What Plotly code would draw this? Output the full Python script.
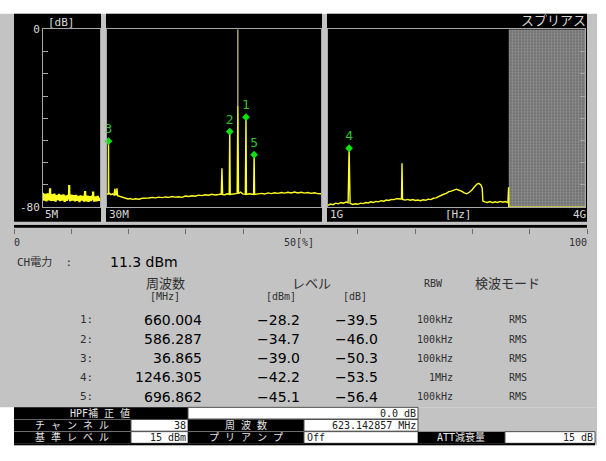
import plotly.graph_objects as go

# ---------------------------------------------------------------- data
# sweep of band 1 (5 MHz - 30 MHz), level in dB relative to channel power
b1_freq = [5.0, 5.5, 6.0, 6.5, 7.0, 7.5, 8.0, 8.1, 8.2, 8.5,
           9.0, 9.5, 10.0, 10.5, 11.0, 11.5, 12.0, 12.5, 13.0, 13.5,
           14.0, 14.5, 15.0, 15.5, 16.0, 16.4, 16.5, 16.6, 17.0, 17.5,
           18.0, 18.5, 19.0, 19.5, 20.0, 20.5, 21.0, 21.5, 22.0, 22.5,
           23.0, 23.4, 23.5, 23.6, 24.0, 24.5, 25.0, 25.5, 26.0, 26.5,
           26.9, 27.0, 27.1, 27.5, 28.0, 28.5, 29.0, 29.5, 30.0]
b1_level = [-73.6, -77.0, -74.0, -77.4, -73.8, -76.9, -74.4, -71.5, -75.0, -77.2,
            -74.2, -77.1, -73.9, -77.5, -74.6, -76.8, -74.0, -77.3, -74.5, -77.0,
            -74.3, -77.6, -74.8, -77.1, -74.5, -75.5, -70.0, -76.0, -77.3, -74.4,
            -77.0, -74.6, -77.4, -74.5, -77.1, -74.9, -77.7, -74.7, -77.0, -75.0,
            -77.5, -75.2, -72.8, -76.2, -77.3, -74.8, -77.6, -75.1, -77.2, -74.9,
            -76.0, -73.0, -76.4, -77.4, -75.2, -77.3, -75.0, -77.1, -75.8]

# sweep of band 2 (30 MHz - 1 GHz), floor and minor spurs
b2_freq = [30, 33, 36, 37.7, 42, 48, 55, 62, 66, 69,
           73, 75, 78, 85, 95, 105, 115, 125, 135, 145,
           160, 175, 190, 205, 220, 235, 250, 265, 280, 295,
           310, 325, 340, 355, 370, 385, 400, 415, 430, 445,
           460, 475, 490, 505, 520, 535, 548, 551, 554, 565,
           575, 584, 588.5, 600, 612, 620, 626, 635, 645, 657,
           662, 675, 688, 694.5, 699, 715, 730, 745, 760, 775,
           790, 805, 820, 835, 850, 865, 880, 895, 910, 925,
           940, 955, 970, 985, 1000]
b2_level = [-74.3, -74.0, -74.2, -74.0, -73.8, -74.4, -74.0, -74.5, -71.7, -74.6,
            -74.3, -71.5, -74.8, -75.0, -75.4, -75.8, -76.0, -76.3, -76.1, -76.5,
            -76.2, -76.4, -76.0, -76.1, -75.9, -75.6, -75.8, -75.5, -75.7, -75.4,
            -75.6, -75.2, -75.5, -75.3, -75.6, -75.0, -75.2, -74.9, -75.1, -74.6,
            -74.8, -74.4, -74.6, -74.2, -74.5, -74.3, -74.1, -62.5, -74.3, -74.4,
            -74.0, -74.2, -74.3, -74.1, -74.0, -73.8, -73.9, -73.2, -74.0, -74.2,
            -74.3, -74.0, -74.2, -74.1, -74.3, -74.0, -73.8, -74.1, -73.6, -73.9,
            -73.5, -73.8, -73.4, -73.7, -73.3, -73.6, -73.2, -73.6, -73.3, -73.7,
            -73.4, -73.8, -73.5, -73.9, -74.0]

# sweep of band 3 (1 GHz - 4 GHz)
b3_freq = [1000, 1030, 1060, 1090, 1120, 1150, 1180, 1210, 1235, 1258,
           1290, 1320, 1350, 1380, 1410, 1440, 1470, 1500, 1530, 1560,
           1590, 1620, 1650, 1680, 1710, 1740, 1770, 1800, 1830, 1858,
           1864, 1870, 1900, 1930, 1960, 1990, 2020, 2050, 2080, 2110,
           2140, 2170, 2200, 2230, 2260, 2290, 2320, 2350, 2380, 2410,
           2440, 2470, 2500, 2530, 2560, 2590, 2620, 2650, 2680, 2710,
           2740, 2760, 2785, 2800, 2808, 2830, 2860, 2890, 2920, 2950,
           2980, 3010, 3040, 3070, 3100, 3108, 3110, 4000]
b3_level = [-79.2, -78.6, -78.9, -78.2, -78.5, -77.9, -78.2, -77.7, -78.0, -78.3,
            -78.8, -78.5, -78.7, -78.2, -78.4, -77.9, -78.1, -77.6, -77.9, -77.4,
            -77.6, -77.1, -77.3, -76.8, -77.0, -76.5, -76.6, -76.2, -76.4, -76.3,
            -60.2, -76.5, -76.8, -76.5, -76.9, -76.6, -77.0, -76.8, -77.1, -76.7,
            -76.9, -76.4, -76.6, -76.0, -75.8, -75.2, -74.9, -74.2, -73.8, -73.0,
            -72.8, -72.2, -71.9, -72.4, -72.8, -73.6, -74.0, -73.3, -72.3, -70.8,
            -69.6, -69.3, -70.0, -71.5, -77.2, -77.6, -77.9, -77.5, -78.0, -77.6,
            -77.9, -77.4, -77.8, -77.5, -78.0, -71.1, -80.0, -80.0]

# excluded (masked) span of band 3, MHz
mask_start, mask_stop = 3110, 4000

# channel
ch_freq = 623.142857
ch_number = 38
ch_power_dbm = 11.3
ch_bar_db = -34.5

# detected spurious peaks
mk_id = [1, 2, 3, 4, 5]
mk_freq = [660.004, 586.287, 36.865, 1246.305, 696.862]
mk_dbm = [-28.2, -34.7, -39.0, -42.2, -45.1]
mk_db = [-39.5, -46.0, -50.3, -53.5, -56.4]
mk_rbw = ["100kHz", "100kHz", "100kHz", "1MHz", "100kHz"]
mk_det = ["RMS", "RMS", "RMS", "RMS", "RMS"]

progress_pct = 100
db_ticks = [0, -10, -20, -30, -40, -50, -60, -70, -80]
pct_ticks = [0, 10, 20, 30, 40, 50, 60, 70, 80, 90, 100]

# ---------------------------------------------------------------- helpers
W, H = 606, 461
MONO = "DejaVu Sans Mono, Noto Sans CJK JP"
SANS = "DejaVu Sans"
CJK = "Noto Sans CJK JP"
YEL = "#ffff20"
GRN = "#10e010"
FRAME = "#a8a8a8"
PANEL_TXT = "#d8d8d8"
GRAY_BG = "#c3c3c3"


def px(x):
    return x / W


def py(y):
    return 1 - y / H


def merge_peaks(freq, level, pk_f, pk_l):
    pts = sorted(list(zip(freq, level)) + list(zip(pk_f, pk_l)))
    return [p[0] for p in pts], [p[1] for p in pts]


def spaced(s):
    # wide character pitch of the instrument font
    return " ".join(s)


shapes = []
annotations = []


def rect(x0, y0, x1, y1, fill, line=None, layer="below"):
    shapes.append(dict(type="rect", xref="paper", yref="paper",
                       x0=px(x0), x1=px(x1), y0=py(y1), y1=py(y0),
                       fillcolor=fill, layer=layer,
                       line=dict(width=1 if line else 0, color=line or fill)))


def label(x, y, text, anchor="left", size=11, color="#303030", family=MONO):
    annotations.append(dict(x=px(x), y=py(y), xref="paper", yref="paper",
                            text=text, xanchor=anchor, yanchor="middle",
                            showarrow=False, borderpad=0,
                            font=dict(size=size, color=color, family=family)))


# ---------------------------------------------------------------- traces
fig = go.Figure()

# masked span
fig.add_trace(go.Scatter(
    x=[mask_start, mask_stop, mask_stop, mask_start, mask_start],
    y=[0, 0, -80, -80, 0], xaxis="x3", yaxis="y3",
    mode="lines", line=dict(width=0), fill="toself", fillcolor="#7a7a7a",
    fillpattern=dict(shape=".", fgcolor="#b4b4b4", bgcolor="#6a6a6a",
                     size=3, solidity=0.5),
    hoverinfo="skip", showlegend=False))

b2_pk_f = [f for f in mk_freq if f < 1000] + [ch_freq]
b2_pk_l = [d for f, d in zip(mk_freq, mk_db) if f < 1000] + [ch_bar_db]
b3_pk_f = [f for f in mk_freq if f >= 1000]
b3_pk_l = [d for f, d in zip(mk_freq, mk_db) if f >= 1000]
b2x, b2y = merge_peaks(b2_freq, b2_level, b2_pk_f, b2_pk_l)
b3x, b3y = merge_peaks(b3_freq, b3_level, b3_pk_f, b3_pk_l)

for xs, ys, xa, ya, w in [(b1_freq, b1_level, "x", "y", 2.2),
                          (b2x, b2y, "x2", "y2", 1.4),
                          (b3x, b3y, "x3", "y3", 1.4)]:
    fig.add_trace(go.Scatter(x=xs, y=ys, xaxis=xa, yaxis=ya, mode="lines",
                             line=dict(color=YEL, width=w),
                             cliponaxis=False, hoverinfo="skip",
                             showlegend=False))

# channel centre line up to the channel reference (0 dB)
fig.add_trace(go.Scatter(x=[ch_freq, ch_freq], y=[0, ch_bar_db],
                         xaxis="x2", yaxis="y2", mode="lines",
                         line=dict(color="#f4f4b0", width=1),
                         hoverinfo="skip", showlegend=False))

# peak markers
for lo, hi, xa, ya in [(0, 1000, "x2", "y2"), (1000, 5000, "x3", "y3")]:
    sel = [i for i, f in enumerate(mk_freq) if lo <= f < hi]
    fig.add_trace(go.Scatter(
        x=[mk_freq[i] for i in sel], y=[mk_db[i] for i in sel],
        text=[str(mk_id[i]) for i in sel], xaxis=xa, yaxis=ya,
        mode="markers+text", textposition="top center",
        textfont=dict(color="#30c030", size=13, family=MONO),
        marker=dict(symbol="diamond", size=6, color=GRN),
        cliponaxis=False, hoverinfo="skip", showlegend=False))

# measurement progress bar
fig.add_trace(go.Scatter(x=[0, progress_pct], y=[0.5, 0.5], xaxis="x4",
                         yaxis="y4", mode="lines",
                         line=dict(color="black", width=3),
                         hoverinfo="skip", showlegend=False))

# ---------------------------------------------------------------- axes
ydom = [py(207), py(24)]
common_x = dict(showgrid=False, zeroline=False, showticklabels=False,
                ticks="", showline=True, mirror=True, linecolor=FRAME,
                linewidth=1, fixedrange=True)
common_y = dict(domain=ydom, range=[-80, 0], showgrid=False, zeroline=False,
                showline=True, mirror=True, linecolor=FRAME, linewidth=1,
                fixedrange=True)

fig.update_layout(
    xaxis=dict(domain=[px(43), px(100)], range=[5, 30], anchor="y",
               **common_x),
    xaxis2=dict(domain=[px(107), px(321)], range=[30, 1000], anchor="y2",
                **common_x),
    xaxis3=dict(domain=[px(328), px(585)], range=[1000, 4000], anchor="y3",
                **common_x),
    yaxis=dict(anchor="x", side="left", ticks="inside", ticklen=5,
               tickcolor=FRAME, tickvals=db_ticks,
               ticktext=["0", "", "", "", "", "", "", "", "-80"],
               tickfont=dict(size=11, color=PANEL_TXT, family=MONO),
               **common_y),
    yaxis2=dict(anchor="x2", showticklabels=False, ticks="", **common_y),
    yaxis3=dict(anchor="x3", side="right", ticks="inside", ticklen=5,
                tickcolor=FRAME, tickvals=db_ticks[1:-1],
                showticklabels=False, **common_y),
    xaxis4=dict(domain=[px(14), px(587)], range=[0, 100],
                anchor="y4", showgrid=False, zeroline=False, showline=False,
                ticks="outside", ticklen=5, tickcolor="#6a6a6a",
                tickvals=pct_ticks, showticklabels=False, fixedrange=True),
    yaxis4=dict(domain=[py(228.5), py(225)], range=[0, 1], visible=False,
                fixedrange=True),
)

# ---------------------------------------------------------------- screen
rect(0, 8, 597, 413, GRAY_BG)
rect(14, 413, 597, 452, GRAY_BG)
rect(14, 8, 101, 222, "black")
rect(106, 8, 322, 222, "black")
rect(327, 8, 587, 222, "black")

label(47, 17, "[dB]", size=11, color=PANEL_TXT)
label(44, 215, "5M", size=11, color=PANEL_TXT)
label(108, 215, "30M", size=11, color=PANEL_TXT)
label(329, 215, "1G", size=11, color=PANEL_TXT)
label(444, 215, "[Hz]", size=11, color=PANEL_TXT)
label(587, 215, "4G", anchor="right", size=11, color=PANEL_TXT)
label(587, 14, "スプリアス", anchor="right", size=13, color=PANEL_TXT,
      family=CJK)

label(13, 243, "0", size=10)
label(283, 243, "50[%]", size=10)
label(588, 243, "100", anchor="right", size=10)

label(16, 264, "CH電力  :", size=11)
label(109, 263, f"{ch_power_dbm} dBm", size=14, color="black", family=SANS)

label(165, 285, "周波数", anchor="center", size=13, family=CJK)
label(165, 299, "[MHz]", anchor="center", size=10)
label(311, 285, "レベル", anchor="center", size=13, family=CJK)
label(281, 299, "[dBm]", anchor="center", size=10)
label(355, 299, "[dB]", anchor="center", size=10)
label(433, 286, "RBW", anchor="center", size=10)
label(507, 285, "検波モード", anchor="center", size=13, family=CJK)

for i in range(len(mk_id)):
    yy = 323 + 19.75 * i
    label(94, yy, f"{mk_id[i]}:", anchor="right", size=11)
    label(203, yy, f"{mk_freq[i]:.3f}", anchor="right", size=14,
          color="black", family=SANS)
    label(301, yy, f"{mk_dbm[i]:.1f}".replace("-", "\u2212"), anchor="right",
          size=14, color="black", family=SANS)
    label(379, yy, f"{mk_db[i]:.1f}".replace("-", "\u2212"), anchor="right",
          size=14, color="black", family=SANS)
    label(454, yy, mk_rbw[i], anchor="right", size=10)
    label(518, yy, mk_det[i], anchor="center", size=10)

# settings panel
rect(14, 413, 188, 425, "black", layer="above")
rect(188, 413, 418, 425, "white", line="#505050", layer="above")
rect(14, 425.5, 131, 437.5, "black", layer="above")
rect(131, 425.5, 188, 437.5, "white", line="#505050", layer="above")
rect(188, 425.5, 304, 437.5, "black", layer="above")
rect(304, 425.5, 418, 437.5, "white", line="#505050", layer="above")
rect(14, 438, 131, 450, "black", layer="above")
rect(131, 438, 188, 450, "white", line="#505050", layer="above")
rect(188, 438, 304, 450, "black", layer="above")
rect(304, 438, 418, 450, "white", line="#505050", layer="above")
rect(418, 438, 505, 450, "black", layer="above")
rect(505, 438, 595, 450, "white", line="#505050", layer="above")
rect(14, 450, 595, 452, "black", layer="above")

WT = "#e8e8e8"
BK = "#202020"
label(100, 419, "HPF" + spaced("補正値"), anchor="center", size=10, color=WT)
label(417, 419, "0.0 dB", anchor="right", size=10, color=BK)
label(72, 431.5, spaced("チャンネル"), anchor="center", size=10, color=WT)
label(187, 431.5, str(ch_number), anchor="right", size=10, color=BK)
label(246, 431.5, spaced("周波数"), anchor="center", size=10, color=WT)
label(417, 431.5, f"{ch_freq:.6f} MHz", anchor="right", size=10, color=BK)
label(72, 444, spaced("基準レベル"), anchor="center", size=10, color=WT)
label(187, 444, "15 dBm", anchor="right", size=10, color=BK)
label(246, 444, spaced("プリアンプ"), anchor="center", size=10, color=WT)
label(306, 444, "Off", size=10, color=BK)
label(461, 444, "ATT減衰量", anchor="center", size=10, color=WT)
label(594, 444, "15 dB", anchor="right", size=10, color=BK)

fig.update_layout(
    width=W, height=H, autosize=False,
    margin=dict(l=0, r=0, t=0, b=0),
    paper_bgcolor="white", plot_bgcolor="rgba(0,0,0,0)",
    shapes=shapes, annotations=annotations, showlegend=False,
)

fig.write_html("out.html", config={"displayModeBar": False})
